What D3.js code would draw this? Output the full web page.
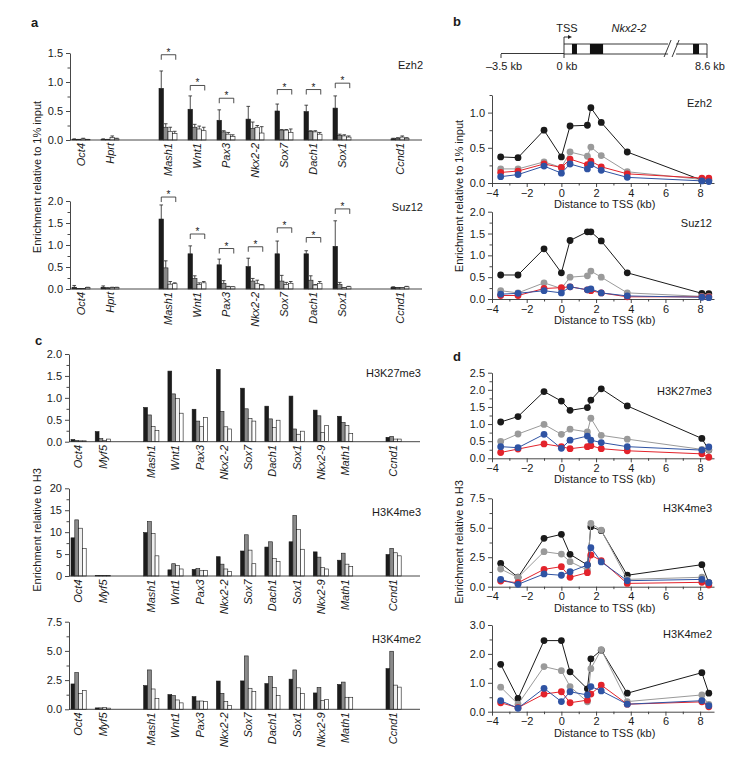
<!DOCTYPE html>
<html><head><meta charset="utf-8">
<script src="https://cdn.jsdelivr.net/npm/d3@7"></script>
<style>
body{margin:0;background:#fff;}
text{font-family:"Liberation Sans",Arial,Helvetica,sans-serif;fill:#1a1a1a;}
</style></head><body>
<svg id="fig" width="750" height="762"></svg>
<script>
// ---------------- DATA ----------------
// Panel a (ChIP, 4 samples per gene: black, dark grey, light grey, white)
const genesA = ["Oct4","Hprt","Mash1","Wnt1","Pax3","Nkx2-2","Sox7","Dach1","Sox1","Ccnd1"];
const ezh2Mean = [
  [0.01,0.01,0.89,0.53,0.34,0.36,0.50,0.49,0.55,0.02],
  [0.01,0.01,0.22,0.22,0.14,0.20,0.17,0.15,0.08,0.03],
  [0.02,0.04,0.15,0.19,0.10,0.22,0.17,0.14,0.07,0.05],
  [0.01,0.02,0.11,0.16,0.06,0.12,0.13,0.10,0.05,0.03]];
const ezh2Err = [
  [0.01,0.01,0.30,0.23,0.18,0.22,0.12,0.11,0.21,0.01],
  [0.00,0.00,0.06,0.05,0.02,0.11,0.01,0.01,0.02,0.01],
  [0.01,0.03,0.07,0.05,0.03,0.03,0.01,0.02,0.02,0.02],
  [0.00,0.01,0.04,0.06,0.03,0.11,0.06,0.03,0.02,0.01]];
const ezh2Sig = ["Mash1","Wnt1","Pax3","Sox7","Dach1","Sox1"];
const ezh2SigLevel = [1.47,0.94,0.72,0.87,0.87,0.98];
const suz12Mean = [
  [0.04,0.04,1.59,0.80,0.55,0.51,0.80,0.80,0.97,0.04],
  [0.01,0.02,0.48,0.24,0.13,0.18,0.18,0.20,0.10,0.03],
  [0.01,0.03,0.11,0.10,0.05,0.12,0.10,0.09,0.03,0.03],
  [0.03,0.03,0.12,0.14,0.05,0.09,0.13,0.13,0.05,0.05]];
const suz12Err = [
  [0.04,0.03,0.32,0.18,0.13,0.19,0.29,0.07,0.58,0.01],
  [0.00,0.01,0.16,0.06,0.06,0.06,0.13,0.10,0.05,0.00],
  [0.00,0.01,0.06,0.04,0.01,0.08,0.05,0.01,0.00,0.00],
  [0.01,0.01,0.02,0.03,0.00,0.01,0.04,0.04,0.01,0.01]];
const suz12Sig = ["Mash1","Wnt1","Pax3","Nkx2-2","Sox7","Dach1","Sox1"];
const suz12SigLevel = [2.09,1.25,0.92,0.96,1.39,1.17,1.82];
const ticksEzh2A = [0,0.5,1.0,1.5];
const ticksSuz12A = [0,0.5,1.0,1.5,2.0];

// Panel c
const genesC = ["Oct4","Myf5","Mash1","Wnt1","Pax3","Nkx2-2","Sox7","Dach1","Sox1","Nkx2-9","Math1","Ccnd1"];
const h3k27me3Bars = [
  [0.05,0.23,0.78,1.61,0.74,1.65,1.22,0.81,1.04,0.72,0.58,0.10],
  [0.03,0.07,0.61,1.09,0.47,0.69,0.75,0.52,0.29,0.59,0.44,0.12],
  [0.02,0.03,0.35,0.99,0.35,0.34,0.53,0.32,0.17,0.21,0.37,0.06],
  [0.02,0.06,0.26,0.65,0.55,0.29,0.47,0.49,0.24,0.37,0.19,0.06]];
const h3k4me3Bars = [
  [8.7,0.1,9.9,1.4,1.5,4.4,5.7,6.6,7.8,5.5,3.6,4.9],
  [12.8,0.1,12.4,2.8,1.7,2.7,9.4,7.8,13.8,4.3,5.2,6.3],
  [10.9,0.1,9.7,2.4,1.2,1.6,5.9,4.0,10.6,1.9,2.7,5.3],
  [6.3,0.1,4.6,1.6,1.3,1.0,2.8,3.3,6.1,1.6,2.2,4.6]];
const h3k4me2Bars = [
  [2.17,0.12,2.03,1.26,1.08,2.42,2.43,2.20,2.58,1.40,2.13,3.48],
  [3.14,0.12,3.37,1.17,0.71,1.37,4.57,2.80,3.37,1.87,2.33,4.97],
  [1.37,0.14,1.74,0.80,0.71,0.67,1.80,1.87,1.84,0.74,1.03,2.07],
  [1.60,0.10,0.94,0.55,0.67,0.34,1.54,1.17,1.37,0.84,1.03,1.90]];
const ticksK27C = [0,0.5,1.0,1.5,2.0];
const ticksK4me3C = [0,5,10,15,20];
const ticksK4me2C = [0,2.5,5.0,7.5];

// Panels b and d: profiles along Nkx2-2 (series: black, grey, red, blue)
const tssDistKb = [-3.5,-2.5,-1,0,0.5,1.5,1.7,2.3,3.8,8.1,8.5];
const ezh2Profile = [
  [0.37,0.36,0.75,0.37,0.81,0.82,1.07,0.86,0.44,0.04,0.04],
  [0.20,0.20,0.30,0.22,0.44,0.38,0.51,0.39,0.16,0.05,0.05],
  [0.15,0.17,0.27,0.22,0.34,0.26,0.31,0.23,0.13,0.07,0.07],
  [0.09,0.12,0.24,0.14,0.27,0.20,0.26,0.18,0.08,0.03,0.02]];
const suz12Profile = [
  [0.55,0.55,1.15,0.60,1.34,1.54,1.54,1.33,0.60,0.13,0.12],
  [0.19,0.14,0.37,0.24,0.50,0.53,0.64,0.50,0.14,0.06,0.06],
  [0.08,0.08,0.24,0.26,0.28,0.21,0.19,0.14,0.05,0.05,0.05],
  [0.11,0.13,0.19,0.14,0.28,0.21,0.23,0.14,0.07,0.04,0.03]];
const k27Profile = [
  [1.06,1.22,1.95,1.67,1.40,1.48,1.70,2.03,1.53,0.58,0.24],
  [0.49,0.71,0.99,0.70,0.85,0.77,1.17,0.67,0.56,0.26,0.25],
  [0.17,0.27,0.42,0.34,0.28,0.34,0.37,0.28,0.22,0.13,0.03],
  [0.34,0.31,0.70,0.29,0.53,0.65,0.53,0.46,0.34,0.24,0.33]];
const k4me3Profile = [
  [1.98,0.80,4.10,4.44,2.75,1.84,5.09,4.75,0.97,1.87,0.34],
  [1.50,0.78,2.97,2.77,2.12,1.42,5.37,4.80,0.62,0.80,0.30],
  [0.48,0.34,1.47,1.70,0.80,1.19,2.69,2.20,0.28,0.37,0.14],
  [0.62,0.20,1.08,0.97,1.27,1.84,3.31,2.10,0.51,0.62,0.34]];
const k4me2Profile = [
  [1.64,0.46,2.46,2.46,1.38,0.79,1.83,2.13,0.64,1.35,0.64],
  [0.85,0.26,1.56,1.42,0.87,0.34,1.49,2.15,0.35,0.58,0.25],
  [0.31,0.14,0.61,0.69,0.31,0.40,0.61,0.92,0.26,0.34,0.17],
  [0.38,0.12,0.81,0.35,0.69,0.58,0.87,0.72,0.26,0.38,0.21]];
const ticksEzh2B = [0,0.5,1.0];
const ticksSuz12B = [0,0.5,1.0,1.5,2.0];
const ticksK27D = [0,0.5,1.0,1.5,2.0,2.5];
const ticksK4me3D = [0,2.5,5.0,7.5];
const ticksK4me2D = [0,1.0,2.0,3.0];
const distTicks = [-4,-2,0,2,4,6,8];

// Gene diagram (kb)
const geneStartKb = -3.5, geneEndKb = 8.6;
const exonStartKb = [0.48,1.56,7.76];
const exonEndKb   = [0.78,2.35,8.12];
const breakKb = 6.5;

// ---------------- STYLE ----------------
const barFill = ["#1c1c1c","#8a8a8a","#eeeeee","#ffffff"];
const lineCol = ["#1a1a1a","#9a9a9a","#e3232b","#2f53a3"];
const drawOrder = [0,1,2,3];

const svg = d3.select("#fig");
const FS = 11;

function yAxis(g, y, x, major, minor, fmt){
  const a = g.append("g").attr("transform",`translate(${x},0)`)
    .call(d3.axisLeft(y).tickValues(major).tickSize(4).tickPadding(3).tickSizeOuter(0).tickFormat(fmt));
  a.selectAll("text").style("font-size",FS+"px").attr("fill","#1a1a1a");
  a.selectAll("line,path").attr("stroke","#333").attr("stroke-width",0.9);
  const m = g.append("g").attr("transform",`translate(${x},0)`)
    .call(d3.axisLeft(y).tickValues(minor).tickSize(2.5).tickFormat(""));
  m.select(".domain").remove();
  m.selectAll("line").attr("stroke","#333").attr("stroke-width",0.9);
}

function halfSteps(t){ const r=[]; for(let i=0;i<t.length-1;i++) r.push((t[i]+t[i+1])/2); return r; }

function barPanel(cfg){
  const {genes, gaps, means, errs, x0, slotW, axisEnd, y0, yTopPx, ticks, fmt, bw, title, titleY, labelTop, sig, sigLevel} = cfg;
  const slots = [];
  genes.forEach((gn,i)=>{ slots.push(gn); if(gaps.includes(i)) slots.push("_gap"+i); });
  const x = d3.scaleBand().domain(slots).range([x0, x0 + slotW*slots.length]);
  const y = d3.scaleLinear().domain([0, ticks[ticks.length-1]]).range([y0, yTopPx]);
  const sub = d3.scaleBand().domain(d3.range(4)).range([0, 4*bw]);
  const g = svg.append("g");
  const gx = gn => x(gn) + 2;
  means.forEach((arr, s)=>{
    const rows = genes.map((gn,i)=>({gn, v:arr[i], e: errs? errs[s][i] : 0}));
    if(errs){
      g.selectAll(null).data(rows).join("path")
        .attr("d", d=>{const cx=gx(d.gn)+sub(s)+bw/2; const t=y(d.v+d.e);
          return `M${cx},${y(d.v)}V${t}M${cx-bw*0.4},${t}H${cx+bw*0.4}`;})
        .attr("stroke","#222").attr("stroke-width",0.8).attr("fill","none");
    }
    g.selectAll(null).data(rows).join("rect")
      .attr("x", d=>gx(d.gn)+sub(s)).attr("width", bw)
      .attr("y", d=>y(d.v)).attr("height", d=>y0 - y(d.v))
      .attr("fill", barFill[s]).attr("stroke","#1a1a1a").attr("stroke-width",0.6);
  });
  g.append("line").attr("x1",x0).attr("x2",axisEnd).attr("y1",y0).attr("y2",y0)
    .attr("stroke","#333").attr("stroke-width",0.9);
  yAxis(g, y, x0, ticks, halfSteps(ticks), fmt);
  genes.forEach(gn=>{
    g.append("text").attr("transform",`translate(${gx(gn)+2*bw},${labelTop}) rotate(-90)`)
      .attr("text-anchor","end").attr("dy","0.35em").style("font-size",FS+"px")
      .style("font-style","italic").text(gn);
  });
  g.append("text").attr("x",axisEnd+1).attr("y",titleY).attr("text-anchor","end")
    .style("font-size",FS+"px").text(title);
  if(sig){
    sig.forEach((gn,k)=>{
      const by = y(sigLevel[k]);
      const x1 = gx(gn)+bw*0.5, x2 = gx(gn)+bw*3.5+1;
      g.append("path").attr("d",`M${x1},${by+5}V${by}H${x2}V${by+5}`)
        .attr("fill","none").attr("stroke","#222").attr("stroke-width",0.8);
      g.append("text").attr("x",(x1+x2)/2).attr("y",by+1).attr("text-anchor","middle")
        .style("font-size","10px").text("*");
    });
  }
}

function linePanel(cfg){
  const {data, y0, yTopPx, ticks, yMax, fmt, title, titleY} = cfg;
  const top = yMax !== undefined ? yMax : ticks[ticks.length-1];
  const x = d3.scaleLinear().domain([-4, 8.8]).range([492, 714]);
  const y = d3.scaleLinear().domain([0, top]).range([y0, yTopPx]);
  const g = svg.append("g");
  const xa = g.append("g").attr("transform",`translate(0,${y0})`)
    .call(d3.axisBottom(x).tickValues(distTicks).tickSize(4).tickPadding(2).tickSizeOuter(0));
  xa.selectAll("text").style("font-size",FS+"px").attr("fill","#1a1a1a");
  xa.selectAll("line,path").attr("stroke","#333").attr("stroke-width",0.9);
  const xm = g.append("g").attr("transform",`translate(0,${y0})`)
    .call(d3.axisBottom(x).tickValues(halfSteps(distTicks)).tickSize(2.5).tickFormat(""));
  xm.select(".domain").remove();
  xm.selectAll("line").attr("stroke","#333").attr("stroke-width",0.9);
  const minor = halfSteps(ticks);
  if(top > ticks[ticks.length-1]) minor.push(top);
  yAxis(g, y, 492, ticks, minor, fmt);
  const line = d3.line().x((d,i)=>x(tssDistKb[i])).y(d=>y(d));
  drawOrder.forEach(s=>{
    g.append("path").datum(data[s]).attr("d",line).attr("fill","none")
      .attr("stroke",lineCol[s]).attr("stroke-width",1);
    g.selectAll(null).data(data[s]).join("circle")
      .attr("cx",(d,i)=>x(tssDistKb[i])).attr("cy",d=>y(d)).attr("r",3.4)
      .attr("fill",lineCol[s]);
  });
  g.append("text").attr("x",712).attr("y",titleY).attr("text-anchor","end")
    .style("font-size",FS+"px").text(title);
  g.append("text").attr("x",x(2.5)).attr("y",y0+25).attr("text-anchor","middle")
    .style("font-size",FS+"px").text("Distance to TSS (kb)");
}

const f1 = d3.format(".1f"), f0 = d3.format("d");

// Panel a
barPanel({genes:genesA, gaps:[1,8], means:ezh2Mean, errs:ezh2Err, x0:70, slotW:29, axisEnd:422,
  y0:140, yTopPx:53, ticks:ticksEzh2A, fmt:f1, bw:4.5, title:"Ezh2", titleY:69, labelTop:143,
  sig:ezh2Sig, sigLevel:ezh2SigLevel});
barPanel({genes:genesA, gaps:[1,8], means:suz12Mean, errs:suz12Err, x0:70, slotW:29, axisEnd:422,
  y0:289, yTopPx:201, ticks:ticksSuz12A, fmt:f1, bw:4.5, title:"Suz12", titleY:211, labelTop:292,
  sig:suz12Sig, sigLevel:suz12SigLevel});

// Panel c
barPanel({genes:genesC, gaps:[1,10], means:h3k27me3Bars, x0:69, slotW:24.23, axisEnd:420,
  y0:441.7, yTopPx:354, ticks:ticksK27C, fmt:f1, bw:3.8, title:"H3K27me3", titleY:377, labelTop:445});
barPanel({genes:genesC, gaps:[1,10], means:h3k4me3Bars, x0:69, slotW:24.23, axisEnd:420,
  y0:576, yTopPx:488.3, ticks:ticksK4me3C, fmt:f0, bw:3.8, title:"H3K4me3", titleY:516, labelTop:579.5});
barPanel({genes:genesC, gaps:[1,10], means:h3k4me2Bars, x0:69, slotW:24.23, axisEnd:420,
  y0:709.3, yTopPx:621.7, ticks:ticksK4me2C, fmt:f1, bw:3.8, title:"H3K4me2", titleY:643, labelTop:712.5});

// Panel b
linePanel({data:ezh2Profile, y0:183, yTopPx:95, ticks:ticksEzh2B, yMax:1.25, fmt:f1, title:"Ezh2", titleY:107});
linePanel({data:suz12Profile, y0:299, yTopPx:211.7, ticks:ticksSuz12B, fmt:f1, title:"Suz12", titleY:227});
// Panel d
linePanel({data:k27Profile, y0:458.3, yTopPx:372.7, ticks:ticksK27D, fmt:f1, title:"H3K27me3", titleY:395});
linePanel({data:k4me3Profile, y0:586.7, yTopPx:498.3, ticks:ticksK4me3D, fmt:f1, title:"H3K4me3", titleY:512});
linePanel({data:k4me2Profile, y0:711.7, yTopPx:625, ticks:ticksK4me2D, fmt:f1, title:"H3K4me2", titleY:638});

// Gene diagram (panel b top)
(function(){
  const gx = d3.scaleLinear().domain([geneStartKb, 0, geneEndKb]).range([501, 564, 707]);
  const g = svg.append("g");
  const top = 44, bot = 54, lineY = 53.5;
  const L = (x1,y1,x2,y2)=>g.append("line").attr("x1",x1).attr("y1",y1).attr("x2",x2).attr("y2",y2)
      .attr("stroke","#222").attr("stroke-width",0.9);
  L(gx(geneStartKb), lineY, gx(0), lineY);
  const bx = gx(breakKb);
  [[gx(0), bx-4],[bx+4, gx(geneEndKb)]].forEach(([a,b])=>{
    L(a,top,b,top); L(a,bot,b,bot);
  });
  L(gx(0),top,gx(0),bot); L(gx(geneEndKb),top,gx(geneEndKb),bot);
  exonStartKb.forEach((s,i)=>{
    g.append("rect").attr("x",gx(s)).attr("y",top).attr("width",gx(exonEndKb[i])-gx(s)).attr("height",bot-top)
      .attr("fill","#111");
  });
  L(bx-8, bot+3, bx-1, top-4); L(bx, bot+3, bx+7, top-4);
  [geneStartKb, 0, geneEndKb].forEach(k=>L(gx(k), bot, gx(k), bot+4));
  const lbl = [["\u20133.5 kb",geneStartKb],["0 kb",0],["8.6 kb",geneEndKb]];
  lbl.forEach(([t,k])=>g.append("text").attr("x",gx(k)+3).attr("y",70).attr("text-anchor","middle")
    .style("font-size",FS+"px").text(t));
  g.append("path").attr("d",`M${gx(0)},${top}V37H${gx(0)+5}`).attr("fill","none").attr("stroke","#222").attr("stroke-width",0.9);
  g.append("path").attr("d",`M${gx(0)+8},37L${gx(0)+4},35L${gx(0)+4},39Z`).attr("fill","#222");
  g.append("text").attr("x",gx(0)+3).attr("y",32).attr("text-anchor","middle").style("font-size",FS+"px").text("TSS");
  g.append("text").attr("x",629).attr("y",32).attr("text-anchor","middle").style("font-size",FS+"px")
    .style("font-style","italic").text("Nkx2-2");
})();

// Axis titles
const yt = (x,y,t)=>svg.append("text").attr("transform",`translate(${x},${y}) rotate(-90)`)
  .attr("text-anchor","middle").style("font-size",FS+"px").text(t);
yt(41,177,"Enrichment relative to 1% input");
yt(463,196,"Enrichment relative to 1% input");
yt(41,530,"Enrichment relative to H3");
yt(463,542,"Enrichment relative to H3");

// Panel letters
[["a",31,27],["b",453,26],["c",35,345],["d",453,361]].forEach(([t,x,y])=>
  svg.append("text").attr("x",x).attr("y",y).style("font-size","13px").style("font-weight","bold").text(t));
</script></body></html>
